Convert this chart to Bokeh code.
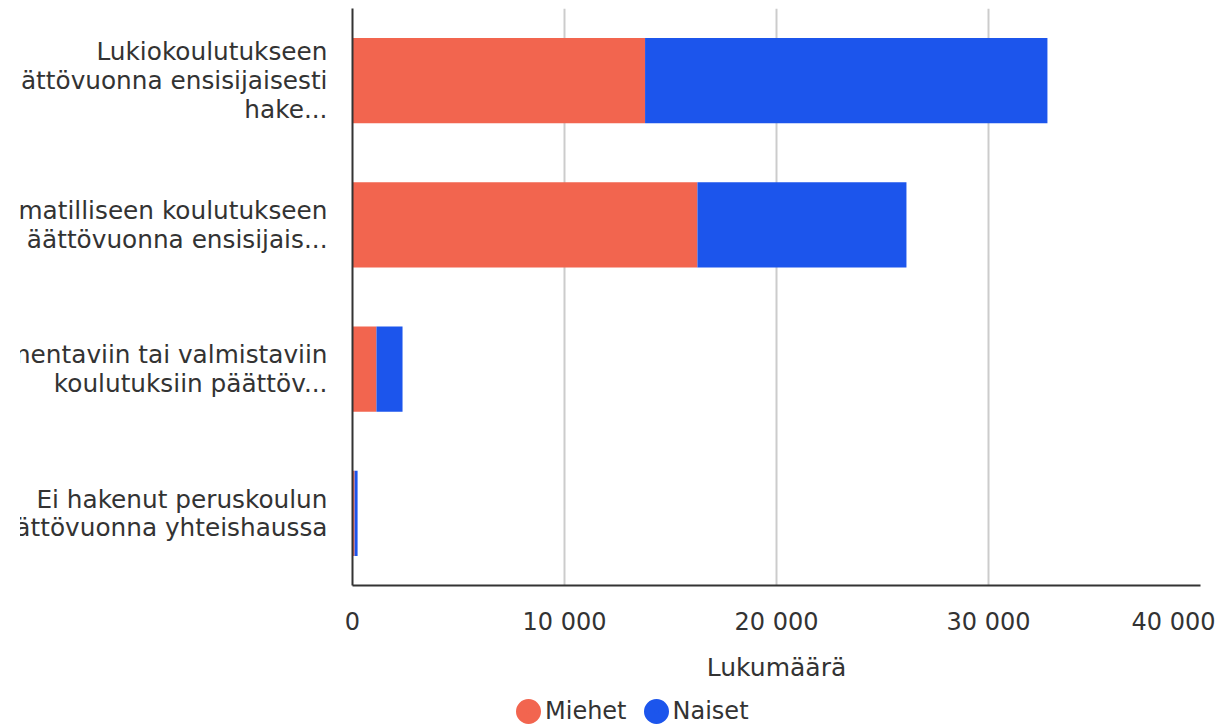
from bokeh.plotting import figure
from bokeh.layouts import column
from bokeh.models import (ColumnDataSource, FactorRange, Range1d, FixedTicker,
                          Legend, LegendItem)
from bokeh.embed import file_html
from bokeh.resources import INLINE

# ---- data ----
categories = [
    "Lukiokoulutukseen\nättövuonna ensisijaisesti\nhake...",
    "matilliseen koulutukseen\näättövuonna ensisijais...",
    "mentaviin tai valmistaviin\nkoulutuksiin päättöv...",
    "Ei hakenut peruskoulun\nättövuonna yhteishaussa",
]
series_names = ["Miehet", "Naiset"]
miehet = [13800, 16270, 1130, 100]
naiset = [18980, 9860, 1230, 140]
x_ticks = [0, 10000, 20000, 30000, 40000]
x_tick_labels = ["0", "10 000", "20 000", "30 000", "40 000"]
axis_title = "Lukumäärä"

# ---- style ----
COLORS = ["#F2654F", "#1C55EC"]
FONT = "DejaVu Sans"
TEXT = "#333333"
BORDER_LEFT = 352
BORDER_RIGHT = 15
FRAME_W = 848
CANVAS_W = BORDER_LEFT + FRAME_W + BORDER_RIGHT
CLIP = {"clip-path": "inset(0px 0px 0px 20px)"}

src = ColumnDataSource(dict(cat=categories, Miehet=miehet, Naiset=naiset))

p = figure(width=CANVAS_W, height=697,
           y_range=FactorRange(factors=categories[::-1]),
           x_range=Range1d(0, x_ticks[-1]),
           output_backend="svg", toolbar_location=None,
           min_border_left=BORDER_LEFT, min_border_right=BORDER_RIGHT,
           min_border_top=8, min_border_bottom=112)
p.styles = dict(CLIP)
p.outline_line_color = None

p.hbar_stack(series_names, y="cat", height=0.59, fill_color=COLORS,
             line_color=None, source=src)

# y axis
p.yaxis.major_tick_out = 0
p.yaxis.major_tick_in = 0
p.yaxis.minor_tick_out = 0
p.yaxis.minor_tick_in = 0
p.yaxis.axis_line_color = "#333333"
p.yaxis.axis_line_width = 2
p.yaxis.major_label_text_font = FONT
p.yaxis.major_label_text_font_size = "24.75px"
p.yaxis.major_label_text_line_height = 0.99
p.yaxis.major_label_text_color = TEXT
p.yaxis.major_label_standoff = 25
p.ygrid.grid_line_color = None

# x axis
p.xaxis.ticker = FixedTicker(ticks=x_ticks)
p.xaxis.major_label_overrides = {t: l for t, l in zip(x_ticks, x_tick_labels)}
p.xaxis.major_tick_out = 0
p.xaxis.major_tick_in = 0
p.xaxis.minor_tick_out = 0
p.xaxis.minor_tick_in = 0
p.xaxis.axis_line_color = "#333333"
p.xaxis.axis_line_width = 2
p.xaxis.major_label_text_font = FONT
p.xaxis.major_label_text_font_size = "24px"
p.xaxis.major_label_text_color = TEXT
p.xaxis.major_label_standoff = 22
p.xaxis.axis_label = axis_title
p.xaxis.axis_label_text_font = FONT
p.xaxis.axis_label_text_font_size = "25px"
p.xaxis.axis_label_text_font_style = "normal"
p.xaxis.axis_label_text_color = TEXT
p.xaxis.axis_label_standoff = 14
p.xgrid.grid_line_color = "#cccccc"
p.xgrid.grid_line_width = 2

# legend strip below the chart, circle markers
lg = figure(width=CANVAS_W, height=28,
            x_range=Range1d(0, 1), y_range=Range1d(0, 1),
            x_axis_location=None, y_axis_location=None,
            output_backend="svg", toolbar_location=None,
            min_border_left=BORDER_LEFT, min_border_right=BORDER_RIGHT,
            min_border_top=0, min_border_bottom=0)
lg.outline_line_color = None
lg.grid.visible = False
nan = float("nan")
items = []
for name, col in zip(series_names, COLORS):
    # legend-only renderer (a single non-drawable point)
    r = lg.scatter(x=[nan], y=[nan], marker="circle", fill_color=col,
                   line_color=col, line_width=14.6)
    items.append(LegendItem(label=name, renderers=[r], index=0))
legend = Legend(items=items, orientation="horizontal", location=(163, 0),
                glyph_width=26, glyph_height=28, label_standoff=4,
                spacing=16, padding=0, margin=0,
                label_text_font=FONT, label_text_font_size="24px",
                label_text_line_height=1.0, label_text_color=TEXT,
                background_fill_alpha=0, border_line_alpha=0)
lg.add_layout(legend, "center")

layout = column(p, lg, spacing=0)
open("out.html", "w").write(file_html(layout, INLINE))
